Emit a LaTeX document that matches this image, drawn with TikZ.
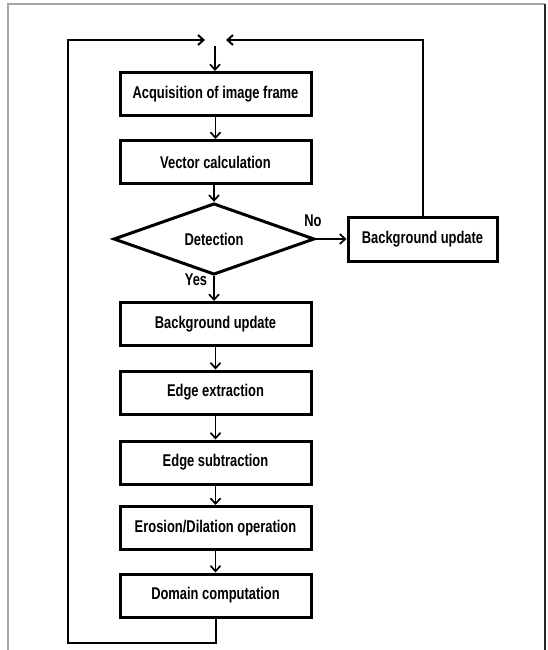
\documentclass[tikz,border=0pt]{standalone}
\usepackage{fontspec}
\setmainfont{Liberation Sans}
\newfontfamily\boxfont[FakeStretch=0.76]{Liberation Sans}
\usetikzlibrary{arrows.meta,shapes.geometric}

\begin{document}
\begin{tikzpicture}[
		x=1pt, y=-1pt,
		>={Straight Barb[length=5.5pt,width=10pt]},
		stepbox/.style={draw, line width=3pt, minimum width=191pt, minimum height=43pt, inner sep=0pt, font=\boxfont\bfseries\fontsize{17}{19}\selectfont},
		testbox/.style={draw, diamond, line width=3pt, minimum width=201pt, minimum height=62pt, inner sep=0pt, font=\boxfont\bfseries\fontsize{17}{19}\selectfont},
		flow/.style={->, line width=1.7pt},
		loop/.style={line width=2pt},
		lab/.style={font=\boxfont\bfseries\fontsize{17}{19}\selectfont}
		]
		
		\useasboundingbox (0,0) rectangle (547,650);
		
		% page frame
		\draw[line width=1.2pt, gray!70] (8,650) -- (8,4) -- (545,4);
		\draw[line width=1.4pt, black!85] (545,4) -- (545,650);
		
		% main column
		\node[stepbox] (acq) at (215.5,94) {Acquisition of image frame};
		\node[stepbox] (vec) at (215.5,162) {Vector calculation};
		\node[testbox] (det) at (214,239) {Detection};
		\node[stepbox] (bgu) at (215.5,324) {Background update};
		\node[stepbox] (edx) at (215.5,392.5) {Edge extraction};
		\node[stepbox] (eds) at (215.5,462.5) {Edge subtraction};
		\node[stepbox] (ero) at (215.5,528) {Erosion/Dilation operation};
		\node[stepbox] (dom) at (215.5,595.5) {Domain computation};
		
		% side branch
		\node[stepbox, minimum width=149pt, minimum height=44pt] (bgr) at (422.5,239) {Background update};
		
		\node[lab] (no) at (313,221) {No};
		\node[lab] (yes) at (196,280) {Yes};
		
		% loop points
		\coordinate (loopL) at (68,643);
		\coordinate (mergeL) at (205,40);
		\coordinate (mergeR) at (226,40);
		\coordinate (mergeC) at (215,46);
		
		% Arrows
		\draw[flow] (mergeC) -- (acq.north -| mergeC);
		\draw[flow] (acq) -- (vec);
		\draw[flow] (vec.south -| det.north) -- (det.north);
		\draw[flow] (det.south) -- (det.south |- bgu.north);
		\draw[flow] (det.east) -- (bgr.west);
		\draw[flow] (bgu) -- (edx);
		\draw[flow] (edx) -- (eds);
		\draw[flow] (eds) -- (ero);
		\draw[flow] (ero) -- (dom);
		
		\draw[flow, loop] (dom.south) |- (loopL) |- (mergeL);
		\draw[flow, loop] (bgr.north) |- (mergeR);
		
	\end{tikzpicture}
\end{document}
